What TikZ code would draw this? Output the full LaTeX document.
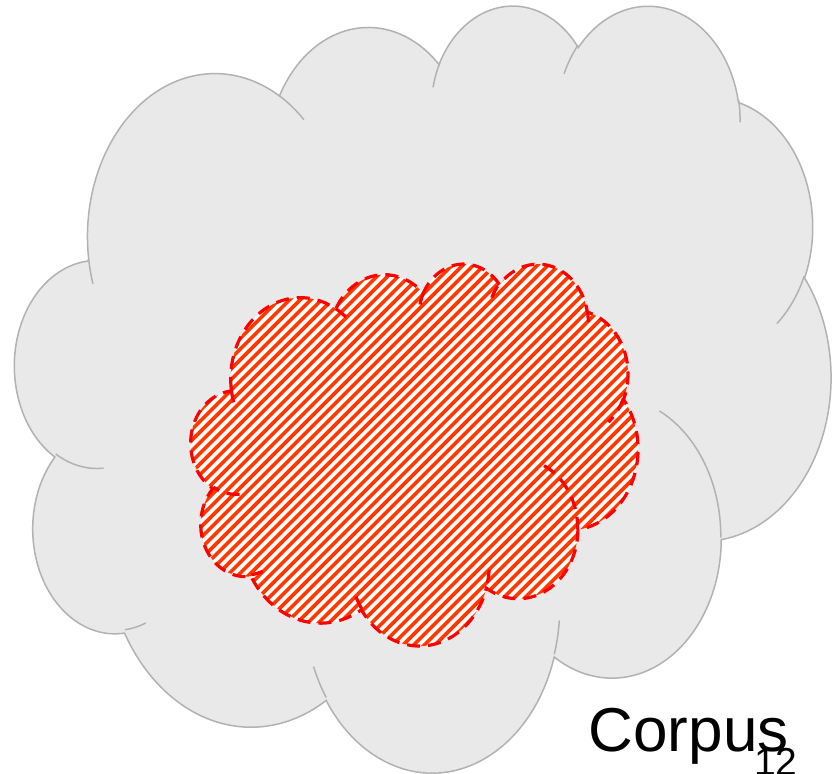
\documentclass[tikz,border=0pt]{standalone}
\usepackage{fontspec}
\setmainfont{Liberation Sans}
\definecolor{cloudgray}{RGB}{233,233,233}
\definecolor{cloudedge}{RGB}{178,178,178}
\definecolor{stripered}{RGB}{255,56,0}
\definecolor{dashred}{RGB}{255,0,0}

% arc of the preset cloud: visual angles (DrawingML) -> parametric angles
\newcommand\cldarc[5]{%
  \pgfmathsetmacro\clTs{atan2((#2)*sin(#4),(#3)*cos(#4))}%
  \pgfmathsetmacro\clTe{atan2((#2)*sin((#4)+(#5)),(#3)*cos((#4)+(#5)))}%
  \pgfmathsetmacro\clDelta{(\clTe)-(\clTs)-(#5)}%
  \pgfmathsetmacro\clDelta{(\clDelta)-360*round((\clDelta)/360)}%
  \pgfmathsetmacro\clTe{(\clTs)+(#5)+(\clDelta)}%
  \expandafter\xdef\csname cla#1\endcsname{arc[x radius=#2,y radius=#3,start angle=\clTs,end angle=\clTe]}%
}
\cldarc{A}{6.753}{9.190}{-190.48748}{123.78053}
\cldarc{B}{5.333}{7.267}{-144.10238}{89.94523}
\cldarc{C}{4.365}{5.945}{-145.80792}{99.72302}
\cldarc{D}{4.857}{6.595}{-130.98607}{117.24173}
\cldarc{E}{5.333}{7.273}{-78.70888}{109.02692}
\cldarc{F}{6.775}{9.220}{-46.26725}{130.26900}
\cldarc{G}{5.785}{7.867}{0.62502}{114.03333}
\cldarc{H}{6.752}{9.215}{22.45160}{115.17255}
\cldarc{I}{7.720}{10.543}{66.24263}{75.71102}
\cldarc{J}{4.360}{5.918}{-274.94208}{146.73557}
\cldarc{K}{4.345}{5.945}{-246.82850}{152.51885}
\cldarc{a}{4.345}{5.945}{86.74200}{26.42950}
\cldarc{b}{4.360}{5.918}{73.61047}{11.44747}
\cldarc{c}{6.752}{9.215}{137.62415}{14.08110}
\cldarc{d}{6.752}{9.215}{6.45327}{15.99835}
\cldarc{e}{5.785}{7.867}{-70.29235}{70.91737}
\cldarc{f}{5.333}{7.273}{30.31803}{27.75150}
\cldarc{g}{4.857}{6.595}{-13.74433}{14.85890}
\cldarc{h}{4.857}{6.595}{-149.18145}{18.19537}
\cldarc{i}{4.365}{5.945}{-163.49427}{17.68635}
\cldarc{j}{6.753}{9.190}{-66.70695}{12.31935}
\cldarc{k}{6.753}{9.190}{157.65435}{11.85817}

\def\cloudmain{(3.900,14.370) \claA \claB \claC \claD \claE \claF \claG \claH \claI \claJ \claK -- cycle}
\def\cloudinner{(4.693,26.177) \claa (6.928,34.899) \clab (16.478,39.090) \clac
  (28.827,34.751) \clad (34.129,22.954) \clae (41.798,15.354) \claf
  (38.324,5.426) \clag (29.078,3.952) \clah (22.141,4.720) \clai
  (14.000,5.192) \claj (4.127,15.789) \clak}

\tikzset{
  bigcloud/.style={shift={(15,3.6)},x=18.882bp,y=-17.748bp},
  smallcloud/.style={shift={(191,262.8)},x=10.344bp,y=-8.839bp},
  grayline/.style={draw=cloudedge,line width=1.5bp},
  redline/.style={draw=dashred,line width=3.2bp,dash pattern=on 13bp off 8bp},
  stripe/.style={draw=stripered,line width=3.6bp},
  label/.style={anchor=base west,inner sep=0pt,text=black}
}

\begin{document}
\begin{tikzpicture}[x=1bp,y=-1bp]
\useasboundingbox (0,0) rectangle (837,774);
% corpus cloud
\fill[cloudgray,bigcloud] \cloudmain;
\draw[grayline,bigcloud] \cloudmain;
\draw[grayline,bigcloud] \cloudinner;
% hatched inner cloud
\begin{scope}
  \clip[smallcloud] \cloudmain;
  \fill[white] (180,250) rectangle (650,660);
  \foreach \c in {440,450.667,...,1300}
    \draw[stripe] (\c-660,660) -- (\c-250,250);
\end{scope}
\draw[redline,smallcloud] \cloudmain;
\draw[redline,smallcloud] \cloudinner;
% labels
\node[label,font=\fontsize{62bp}{70bp}\selectfont] (corpus) at (588.5,751) {Corpus};
\node[label,font=\fontsize{39bp}{44bp}\selectfont] (slide) at (754,775) {12};
\end{tikzpicture}
\end{document}
